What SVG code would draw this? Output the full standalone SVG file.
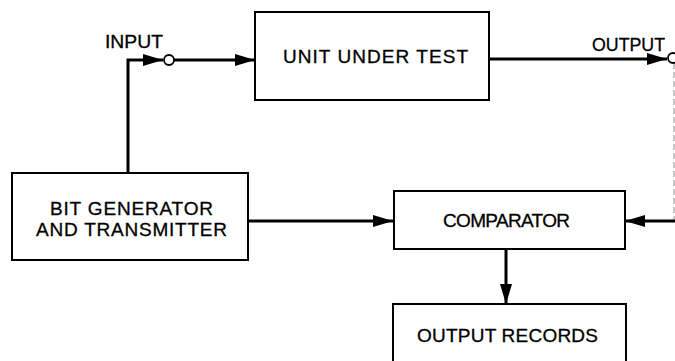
<svg xmlns="http://www.w3.org/2000/svg" width="675" height="361" viewBox="0 0 675 361">
  <style>
    .box { fill: #fff; stroke: #000; stroke-width: 2; }
    .wire { fill: none; stroke: #000; stroke-width: 3; }
    .faint { fill: none; stroke: #a0a0a0; stroke-width: 1.2; stroke-dasharray: 6 3; }
    .term { fill: #fff; stroke: #000; stroke-width: 1.8; }
    text { font-family: "Liberation Sans", Arial, sans-serif; font-size: 19px; fill: #000; stroke: #000; stroke-width: 0.3; }
  </style>
  <defs>
    <marker id="arrow" markerWidth="20" markerHeight="12" refX="20" refY="6" orient="auto" markerUnits="userSpaceOnUse">
      <path d="M0,0 L20,6 L0,12 Z" fill="#000"/>
    </marker>
  </defs>
  <rect width="675" height="361" fill="#fff"/>

  <g id="connectors">
    <!-- generator up to the input terminal -->
    <path class="wire" d="M128,173 V60 H163" marker-end="url(#arrow)"/>
    <!-- input terminal to unit under test -->
    <path class="wire" d="M174,60 H255" marker-end="url(#arrow)"/>
    <!-- unit under test to output terminal -->
    <path class="wire" d="M489,59 H667" marker-end="url(#arrow)"/>
    <!-- return line from output terminal -->
    <path class="faint" d="M674,63 V221"/>
    <path class="wire" d="M675,221 H625" marker-end="url(#arrow)"/>
    <!-- generator reference to comparator -->
    <path class="wire" d="M248,221 H393" marker-end="url(#arrow)"/>
    <!-- comparator to records -->
    <path class="wire" d="M506,249 V304" marker-end="url(#arrow)"/>
    <!-- terminals -->
    <circle class="term" cx="169" cy="60" r="5"/>
    <circle class="term" cx="673" cy="58" r="5"/>
  </g>

  <g id="input-label">
    <text x="105" y="48" textLength="58" lengthAdjust="spacingAndGlyphs">INPUT</text>
  </g>
  <g id="output-label">
    <text x="592" y="51" textLength="73" lengthAdjust="spacingAndGlyphs">OUTPUT</text>
  </g>

  <g id="unit-under-test">
    <rect class="box" x="255" y="12" width="234" height="88"/>
    <text x="283" y="63" textLength="185" lengthAdjust="spacing">UNIT UNDER TEST</text>
  </g>

  <g id="bit-generator">
    <rect class="box" x="12" y="173" width="236" height="87"/>
    <text x="50" y="215" textLength="163" lengthAdjust="spacing">BIT GENERATOR</text>
    <text x="36" y="236" textLength="191" lengthAdjust="spacing">AND TRANSMITTER</text>
  </g>

  <g id="comparator">
    <rect class="box" x="394" y="191" width="231" height="58"/>
    <text x="443" y="227" textLength="127" lengthAdjust="spacing">COMPARATOR</text>
  </g>

  <g id="output-records">
    <path class="box" d="M393,362 V304 H626 V362"/>
    <text x="417" y="342" textLength="181" lengthAdjust="spacing">OUTPUT RECORDS</text>
  </g>
</svg>
